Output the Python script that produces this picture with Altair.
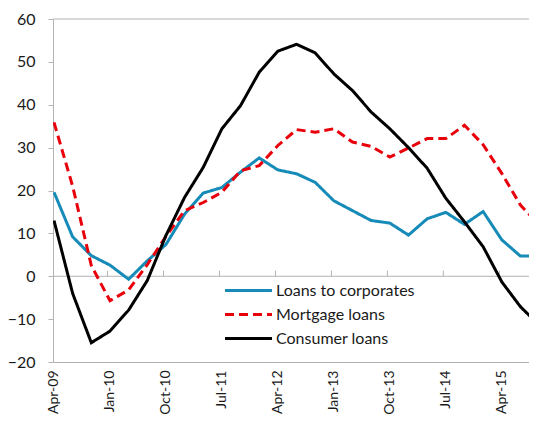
import altair as alt
import pandas as pd

quarters = ["Apr-09", "Jul-09", "Oct-09", "Jan-10", "Apr-10", "Jul-10", "Oct-10", "Jan-11",
            "Apr-11", "Jul-11", "Oct-11", "Jan-12", "Apr-12", "Jul-12", "Oct-12", "Jan-13",
            "Apr-13", "Jul-13", "Oct-13", "Jan-14", "Apr-14", "Jul-14", "Oct-14", "Jan-15",
            "Apr-15", "Jul-15", "Oct-15"]

corporates = [19.6, 9.2, 4.8, 2.6, -0.7, 3.6, 7.4, 14.5, 19.4, 20.7, 24.3, 27.6, 24.8, 23.9,
              21.9, 17.6, 15.3, 13.0, 12.4, 9.6, 13.4, 14.9, 12.1, 15.1, 8.5, 4.7, 4.7]
mortgage = [35.9, 21.0, 2.5, -5.7, -3.2, 2.7, 9.3, 15.3, 17.2, 19.6, 24.6, 25.8, 30.5, 34.2,
            33.6, 34.4, 31.3, 30.3, 27.8, 29.9, 32.1, 32.1, 35.2, 30.7, 24.0, 16.6, 12.0]
consumer = [13.0, -4.0, -15.5, -12.8, -7.9, -1.0, 9.5, 18.4, 25.4, 34.4, 39.8, 47.6, 52.5, 54.1,
            52.1, 47.2, 43.3, 38.3, 34.4, 30.0, 25.2, 18.2, 12.7, 6.9, -1.3, -7.1, -11.4]

series_names = ["Loans to corporates", "Mortgage loans", "Consumer loans"]
series_colors = ["#168BB8", "#E8000B", "#000000"]
series_dash = [[1, 0], [9, 5], [1, 0]]

label_idx = [0, 3, 6, 9, 12, 15, 18, 21, 24]
y_ticks = [60, 50, 40, 30, 20, 10, 0, -10, -20]

rows = []
for name, vals in zip(series_names, [corporates, mortgage, consumer]):
    for i, v in enumerate(vals):
        rows.append({"i": i, "q": quarters[i], "series": name, "value": v})
df = pd.DataFrame(rows)

X_MIN, X_MAX = -0.053, 25.46
Y_MIN, Y_MAX = -20, 60

tick_df = pd.DataFrame({"i": [k - 0.13 for k in label_idx[1:]], "y0": 0, "y1": 1.3})
zero_df = pd.DataFrame({"y": [0]})
top_df = pd.DataFrame({"x0": [X_MIN], "x1": [X_MAX], "y": [Y_MAX]})

W, H = 476, 343
FONT = "Lato"
GRAY = "#b3b3b3"

label_expr = "{" + ",".join(f"'{k}':'{quarters[k]}'" for k in label_idx) + "}[datum.value]"

xscale = alt.Scale(domain=[X_MIN, X_MAX], nice=False, zero=False)
yscale = alt.Scale(domain=[Y_MIN, Y_MAX], nice=False)

lines = alt.Chart(df).mark_line(strokeWidth=3, clip=True).encode(
    x=alt.X("i:Q", scale=xscale,
            axis=alt.Axis(values=label_idx, labelExpr=label_expr, labelAngle=-90,
                          ticks=False, grid=False, domainColor=GRAY, domainWidth=1,
                          labelPadding=8, labelFontSize=14, labelFont=FONT,
                          labelColor="#1a1a1a", title=None)),
    y=alt.Y("value:Q", scale=yscale,
            axis=alt.Axis(values=y_ticks, grid=False, domainColor=GRAY, domainWidth=1,
                          tickColor=GRAY, tickWidth=1,
                          tickSize=5, labelPadding=13, labelFontSize=16, labelFont=FONT,
                          labelColor="#1a1a1a", title=None)),
    color=alt.Color("series:N", scale=alt.Scale(domain=series_names, range=series_colors),
                    legend=alt.Legend(title=None)),
    strokeDash=alt.StrokeDash("series:N", scale=alt.Scale(domain=series_names, range=series_dash),
                              legend=alt.Legend(title=None)),
    order=alt.Order("i:Q"),
)

zero = alt.Chart(zero_df).mark_rule(color=GRAY, strokeWidth=1).encode(y=alt.Y("y:Q", scale=yscale))
ticks = alt.Chart(tick_df).mark_rule(color=GRAY, strokeWidth=1).encode(
    x=alt.X("i:Q", scale=xscale), y=alt.Y("y0:Q", scale=yscale), y2="y1:Q")
top = alt.Chart(top_df).mark_rule(color=GRAY, strokeWidth=1).encode(
    x=alt.X("x0:Q", scale=xscale), x2="x1:Q", y=alt.Y("y:Q", scale=yscale))

chart = alt.layer(zero, ticks, top, lines).properties(
    width=W, height=H,
    autosize=alt.AutoSizeParams(type="none"),
    padding={"left": 45, "top": 11, "right": 0, "bottom": 56},
).configure_view(stroke=None).configure_legend(
    orient="none", legendX=186, legendY=262, padding=0,
    symbolType="M-3,0L3,0", symbolSize=245, symbolStrokeWidth=3,
    labelFontSize=16, labelFont=FONT, labelColor="#1a1a1a", labelLimit=400,
    rowPadding=6, labelOffset=18,
)

chart.save("out.html", embed_options={"renderer": "svg", "actions": False})
